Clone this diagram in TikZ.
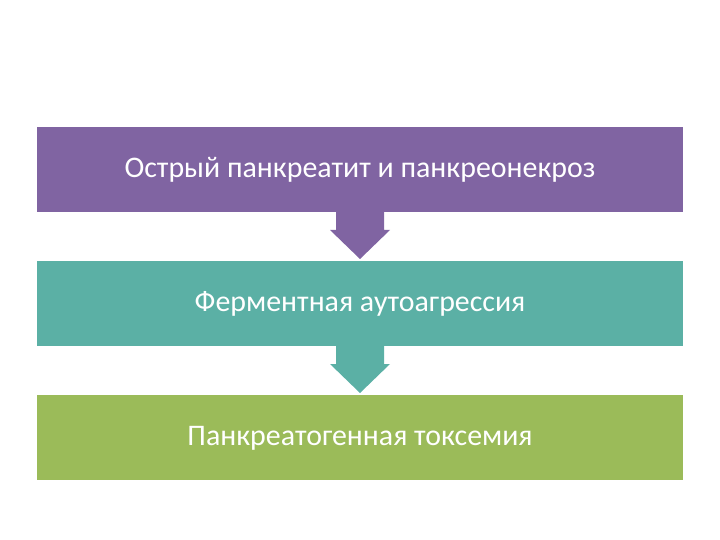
\documentclass[tikz,border=0pt]{standalone}
\usepackage{fontspec}
\setmainfont{Carlito}
\definecolor{cpurple}{HTML}{8064A2}
\definecolor{cteal}{HTML}{5BB0A5}
\definecolor{cgreen}{HTML}{9BBB59}
\begin{document}
\begin{tikzpicture}[x=1bp,y=-1bp,
  bar/.style={fill=#1,draw=none},
  lbl/.style={text=white,font=\fontsize{30}{36}\selectfont},
  arr/.style={fill=#1,draw=none}]
\useasboundingbox (0,0) rectangle (720,540);
\path[bar=cpurple] (37,127) rectangle (683,212);
\path[bar=cteal] (37,261) rectangle (683,346);
\path[bar=cgreen] (37,395) rectangle (683,480);
\node[lbl] (a) at (360,170) {Острый панкреатит и панкреонекроз};
\node[lbl] (b) at (360,304) {Ферментная аутоагрессия};
\node[lbl] (c) at (360,438) {Панкреатогенная токсемия};
\path[arr=cpurple] (336,212) -- (384,212) -- (384,230) -- (390,230) -- (360,259) -- (330,230) -- (336,230) -- cycle;
\path[arr=cteal] (336,346) -- (384,346) -- (384,364) -- (390,364) -- (360,393) -- (330,364) -- (336,364) -- cycle;
\end{tikzpicture}
\end{document}
